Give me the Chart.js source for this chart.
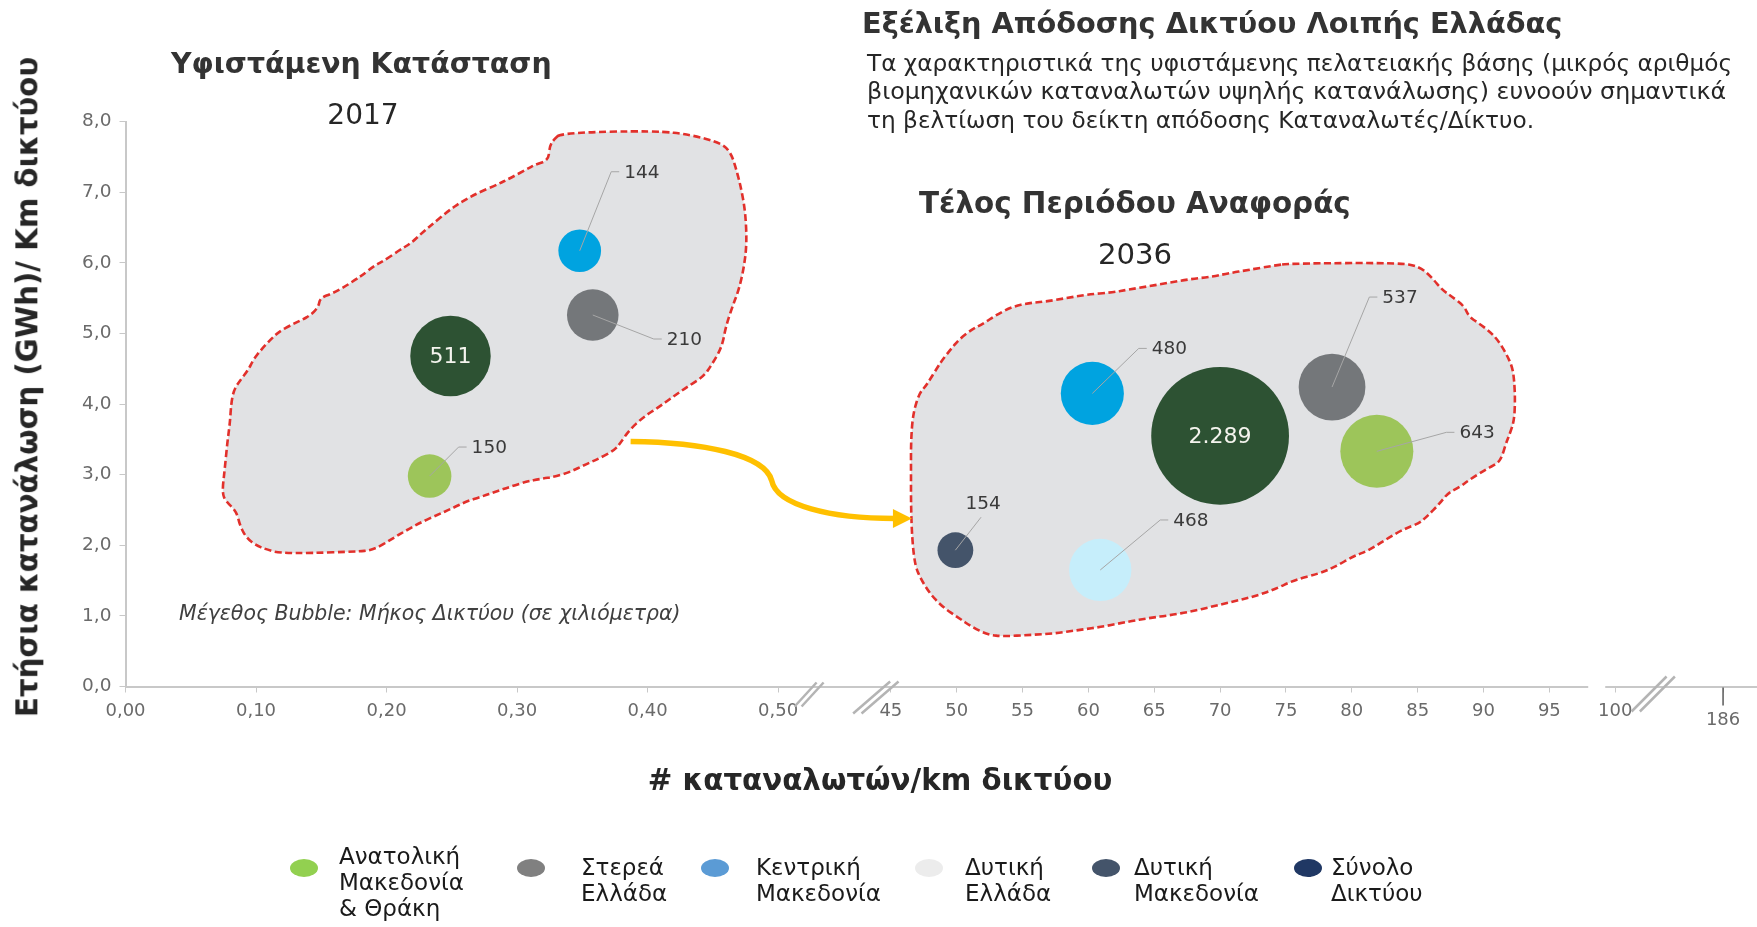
<!DOCTYPE html>
<html lang="el">
<head>
<meta charset="utf-8">
<title>Εξέλιξη Απόδοσης Δικτύου Λοιπής Ελλάδας</title>
<script src="https://cdn.jsdelivr.net/npm/chart.js@4.4.1/dist/chart.umd.min.js"></script>
<style>
body{margin:0;background:#fff;}
#wrap{position:relative;width:1757px;height:927px;overflow:hidden;font-family:"DejaVu Sans",sans-serif;color:#262626;}
#c{position:absolute;left:0;top:0;}
.t{position:absolute;white-space:nowrap;line-height:1;}
.b{font-weight:bold;}
.mid{transform:translate(-50%,-50%);}
.lft{transform:translateY(-50%);}
.mark{position:absolute;width:28px;height:18px;border-radius:50%;}
.leg{position:absolute;font-size:23px;line-height:26px;color:#1a1a1a;white-space:nowrap;}
</style>
</head>
<body>
<div id="wrap">
<canvas id="c" width="1757" height="927"></canvas>

<div class="t b lft" data-w="700" style="left:862px;top:23px;font-size:26px;color:#333">Εξέλιξη Απόδοσης Δικτύου Λοιπής Ελλάδας</div>
<div class="t lft" data-w="865" style="left:867px;top:63px;font-size:20px">Τα χαρακτηριστικά της υφιστάμενης πελατειακής βάσης (μικρός αριθμός</div>
<div class="t lft" data-w="860" style="left:867px;top:92px;font-size:20px">βιομηχανικών καταναλωτών υψηλής κατανάλωσης) ευνοούν σημαντικά</div>
<div class="t lft" data-w="667" style="left:867px;top:120px;font-size:20px">τη βελτίωση του δείκτη απόδοσης Καταναλωτές/Δίκτυο.</div>

<div class="t b lft" data-w="381" style="left:171px;top:64px;font-size:26px;color:#333">Υφιστάμενη Κατάσταση</div>
<div class="t mid" data-w="71" style="left:363px;top:115px;font-size:28px">2017</div>
<div class="t b lft" data-w="432" style="left:919px;top:204px;font-size:26px;color:#333">Τέλος Περιόδου Αναφοράς</div>
<div class="t mid" data-w="74" style="left:1135px;top:255px;font-size:28px">2036</div>

<div class="t lft" data-w="502" style="left:179px;top:613px;font-size:19px;font-style:italic;color:#404040">Μέγεθος Bubble: Μήκος Δικτύου (σε χιλιόμετρα)</div>

<div class="t b mid" data-w="661" style="left:28px;top:387px;font-size:28px;transform:translate(-50%,-50%) rotate(-90deg)">Ετήσια κατανάλωση (GWh)/ Km δικτύου</div>
<div class="t b mid" data-w="465" style="left:880px;top:781px;font-size:28px">#&nbsp;καταναλωτών/km δικτύου</div>

<div id="legend"></div>
</div>

<script>
// regions, in legend order
const regions = ['Ανατολική\nΜακεδονία\n& Θράκη', 'Στερεά\nΕλλάδα', 'Κεντρική\nΜακεδονία', 'Δυτική\nΕλλάδα', 'Δυτική\nΜακεδονία', 'Σύνολο\nΔικτύου'];
const legendColors = ['#92d050', '#808080', '#5b9bd5', '#ececec', '#44546a', '#203864'];
const bubbleColors = ['#9dc55a', '#74777a', '#00a3e0', '#c6eefb', '#44546a', '#2d5233'];

// 2017 - Υφιστάμενη Κατάσταση
const consumers2017 = [0.233, 0.358, 0.348, null, null, 0.249];
const energy2017 = [2.98, 5.26, 6.17, null, null, 4.68];
const km2017 = [150, 210, 144, null, null, 511];

// 2036 - Τέλος Περιόδου Αναφοράς
const consumers2036 = [81.9, 78.5, 60.3, 60.9, 49.9, 70.0];
const energy2036 = [3.33, 4.24, 4.15, 1.65, 1.93, 3.55];
const km2036 = [643, 537, 480, 468, 154, 2289];

// broken x axis
const xTicks = [0, 0.1, 0.2, 0.3, 0.4, 0.5, 45, 50, 55, 60, 65, 70, 75, 80, 85, 90, 95, 100, 186];

// outlines of the two groups (axis units)
const blob2017 = [[0.334,7.84],[0.406,7.87],[0.434,7.81],[0.457,7.69],[0.464,7.55],[0.468,7.32],[0.472,7.03],[0.475,6.70],[0.476,6.28],[0.474,5.95],[0.470,5.62],[0.465,5.38],[0.460,5.10],[0.457,4.81],[0.450,4.58],[0.443,4.39],[0.431,4.25],[0.420,4.11],[0.409,3.96],[0.397,3.82],[0.386,3.63],[0.380,3.47],[0.375,3.35],[0.363,3.23],[0.352,3.14],[0.341,3.04],[0.329,2.97],[0.318,2.94],[0.307,2.90],[0.295,2.83],[0.284,2.76],[0.273,2.69],[0.261,2.62],[0.250,2.52],[0.239,2.43],[0.227,2.33],[0.216,2.22],[0.205,2.10],[0.190,1.93],[0.176,1.91],[0.142,1.89],[0.118,1.89],[0.108,1.94],[0.100,2.00],[0.093,2.10],[0.088,2.26],[0.085,2.48],[0.077,2.62],[0.074,2.74],[0.076,3.07],[0.078,3.45],[0.080,3.73],[0.081,4.01],[0.083,4.20],[0.088,4.34],[0.094,4.48],[0.098,4.63],[0.104,4.77],[0.111,4.91],[0.118,5.03],[0.127,5.12],[0.135,5.19],[0.142,5.26],[0.148,5.38],[0.149,5.50],[0.159,5.57],[0.168,5.66],[0.176,5.76],[0.182,5.83],[0.190,5.95],[0.199,6.04],[0.210,6.18],[0.219,6.28],[0.227,6.42],[0.236,6.56],[0.247,6.73],[0.258,6.87],[0.270,6.99],[0.284,7.10],[0.295,7.20],[0.307,7.32],[0.314,7.39],[0.324,7.45],[0.325,7.65],[0.328,7.74]];
const blob2036 = [[75.33,5.99],[83.52,6.00],[85.10,5.95],[86.04,5.80],[86.83,5.62],[87.61,5.52],[88.56,5.38],[88.87,5.24],[89.66,5.14],[90.45,5.03],[91.07,4.91],[91.70,4.72],[92.18,4.53],[92.33,4.34],[92.40,4.06],[92.33,3.77],[92.02,3.59],[91.70,3.44],[91.39,3.25],[91.07,3.16],[90.13,3.07],[88.87,2.92],[88.24,2.83],[87.30,2.74],[86.67,2.59],[85.73,2.41],[85.10,2.31],[83.84,2.22],[82.58,2.08],[81.32,1.93],[80.06,1.84],[78.80,1.70],[77.54,1.60],[75.65,1.51],[74.08,1.37],[72.50,1.27],[70.93,1.20],[69.36,1.13],[67.78,1.06],[66.21,1.01],[64.64,0.97],[63.06,0.92],[61.17,0.85],[59.28,0.80],[57.39,0.75],[55.51,0.73],[53.62,0.71],[52.36,0.73],[51.10,0.85],[50.16,0.97],[48.90,1.13],[47.95,1.32],[47.32,1.51],[46.85,1.70],[46.62,2.08],[46.53,2.55],[46.53,3.02],[46.53,3.49],[46.69,3.87],[47.16,4.15],[47.63,4.25],[47.95,4.34],[48.58,4.53],[48.90,4.62],[49.53,4.77],[50.16,4.91],[51.10,5.05],[52.04,5.14],[52.99,5.26],[54.25,5.38],[55.51,5.43],[56.76,5.45],[58.34,5.50],[59.91,5.55],[61.80,5.58],[63.06,5.62],[64.64,5.67],[66.21,5.72],[67.78,5.77],[69.36,5.80],[70.62,5.85],[72.19,5.90],[74.08,5.96]];
// arrow from the 2017 group to the 2036 group (axis units)
const arrowFrom = [0.387, 3.47];
const arrowTo = [46.6, 2.38];

// bubble area ~ network length, separate scale per picture
const BUBBLE_K = {2017: 1.78, 2036: 1.44};
// leader line elbows, px from bubble centre (null = label inside)
const leaders = {
  2017: [[29, -29], [61, 24], [31.5, -79], null, null, null],
  2036: [[69.6, -19], [37.3, -90], [46.4, -45], [60, -50], [25.7, -33, 'up'], null]
};
const legendMarkerX = [304, 531, 715, 929, 1106, 1308];
const legendTextX = [339, 581, 756, 965, 1134, 1331];

function fmtKm(v){ return String(v).replace(/\B(?=(\d{3})+(?!\d))/g, '.'); }
function bubble(x, y, km, period){
  return {x: x, y: y, r: BUBBLE_K[period] * Math.sqrt(km), km: km, period: period};
}

// x scale with the breaks 0,50 // 45 ... 100 // 186
const X_SEGS = [[0, 0.5, 0, 0.4], [0.5, 45, 0.4, 0.4691], [45, 100, 0.4691, 0.9131], [100, 186, 0.9131, 0.9792]];
class BrokenScale extends Chart.LinearScale {
  buildTicks(){
    this.start = this.min;
    this.end = this.max;
    return xTicks.map(v => ({value: v}));
  }
  getPixelForValue(v){
    const s = X_SEGS.find(s => v <= s[1]) || X_SEGS[X_SEGS.length - 1];
    return this.getPixelForDecimal(s[2] + (v - s[0]) / (s[1] - s[0]) * (s[3] - s[2]));
  }
  getValueForPixel(px){
    const d = this.getDecimalForPixel(px);
    const s = X_SEGS.find(s => d <= s[3]) || X_SEGS[X_SEGS.length - 1];
    return s[0] + (d - s[2]) / (s[3] - s[2]) * (s[1] - s[0]);
  }
}
BrokenScale.id = 'broken';
BrokenScale.defaults = Chart.LinearScale.defaults;
Chart.register(BrokenScale);

const datasets = regions.map((name, i) => ({
  label: name.replace(/\n/g, ' '),
  backgroundColor: bubbleColors[i],
  borderWidth: 0,
  data: [
    km2017[i] == null ? null : bubble(consumers2017[i], energy2017[i], km2017[i], 2017),
    bubble(consumers2036[i], energy2036[i], km2036[i], 2036)
  ].filter(Boolean)
}));

function smoothPath(ctx, pts){
  const n = pts.length;
  const mid = (a, b) => [(a[0] + b[0]) / 2, (a[1] + b[1]) / 2];
  let m = mid(pts[n - 1], pts[0]);
  ctx.moveTo(m[0], m[1]);
  for (let i = 0; i < n; i++) {
    m = mid(pts[i], pts[(i + 1) % n]);
    ctx.quadraticCurveTo(pts[i][0], pts[i][1], m[0], m[1]);
  }
  ctx.closePath();
}

const decorations = {
  id: 'decorations',
  beforeDatasetsDraw(chart){
    const {ctx, scales: {x, y}} = chart;
    ctx.save();
    [blob2017, blob2036].forEach(outline => {
      const pts = outline.map(p => [x.getPixelForValue(p[0]), y.getPixelForValue(p[1])]);
      ctx.beginPath();
      smoothPath(ctx, pts);
      ctx.fillStyle = '#e1e2e4';
      ctx.fill();
      ctx.setLineDash([7, 3.5]);
      ctx.lineWidth = 2.6;
      ctx.strokeStyle = '#e2302b';
      ctx.stroke();
    });
    ctx.setLineDash([]);

    // arrow
    const p0 = [x.getPixelForValue(arrowFrom[0]), y.getPixelForValue(arrowFrom[1])];
    const tip = [x.getPixelForValue(arrowTo[0]), y.getPixelForValue(arrowTo[1])];
    const p1 = [tip[0] - 18, tip[1]];
    const dx = p1[0] - p0[0], dy = p1[1] - p0[1];
    ctx.strokeStyle = '#ffc000';
    ctx.fillStyle = '#ffc000';
    ctx.lineWidth = 5.5;
    ctx.beginPath();
    ctx.moveTo(p0[0], p0[1]);
    ctx.bezierCurveTo(p0[0] + 0.27 * dx, p0[1] + 0.01 * dy, p0[0] + 0.51 * dx, p0[1] + 0.17 * dy, p0[0] + 0.536 * dx, p0[1] + 0.51 * dy);
    ctx.bezierCurveTo(p0[0] + 0.555 * dx, p0[1] + 0.83 * dy, p0[0] + 0.76 * dx, p1[1], p1[0] + 1, p1[1]);
    ctx.stroke();
    ctx.beginPath();
    ctx.moveTo(tip[0], tip[1]);
    ctx.lineTo(tip[0] - 19, tip[1] - 9.5);
    ctx.lineTo(tip[0] - 19, tip[1] + 9.5);
    ctx.closePath();
    ctx.fill();
    ctx.restore();
  },
  afterDatasetsDraw(chart){
    const ctx = chart.ctx;
    chart.data.datasets.forEach((ds, i) => {
      chart.getDatasetMeta(i).data.forEach((el, j) => {
        const d = ds.data[j];
        const off = leaders[d.period][i];
        const txt = fmtKm(d.km);
        ctx.save();
        ctx.textBaseline = 'middle';
        if (!off) {
          ctx.font = '22px "DejaVu Sans"';
          ctx.fillStyle = '#f4f4ee';
          ctx.textAlign = 'center';
          ctx.fillText(txt, el.x, el.y + 1);
        } else {
          const ex = el.x + off[0], ey = el.y + off[1];
          ctx.strokeStyle = '#a6a6a6';
          ctx.lineWidth = 1;
          ctx.beginPath();
          ctx.moveTo(el.x, el.y);
          ctx.lineTo(ex, ey);
          if (off[2] !== 'up') ctx.lineTo(ex + 8, ey);
          ctx.stroke();
          ctx.font = '18.5px "DejaVu Sans"';
          ctx.fillStyle = '#3a3a3a';
          if (off[2] === 'up') {
            ctx.textAlign = 'center';
            ctx.fillText(txt, ex + 2, ey - 13);
          } else {
            ctx.textAlign = 'left';
            ctx.fillText(txt, ex + 13, ey + 1);
          }
        }
        ctx.restore();
      });
    });
  },
  afterDraw(chart){
    const {ctx, scales: {x}} = chart;
    const ay = chart.chartArea.bottom;
    ctx.save();
    // gap in the axis line before 100
    const p100 = x.getPixelForValue(100);
    ctx.fillStyle = '#fff';
    ctx.fillRect(p100 - 27, ay - 3, 17, 6);
    // break marks
    ctx.strokeStyle = '#b4b4b4';
    ctx.lineWidth = 2.5;
    const marks = [[x.getPixelForValue(0.5) + 31, 22, 7, ay - 4, ay + 20],
                   [x.getPixelForValue(45) - 15, 37, 8.4, ay - 5, ay + 27],
                   [p100 + 38, 35, 8.3, ay - 10, ay + 25]];
    marks.forEach(([cx, w, gap, top, bot]) => {
      [-gap / 2, gap / 2].forEach(o => {
        ctx.beginPath();
        ctx.moveTo(cx + o - w / 2, bot);
        ctx.lineTo(cx + o + w / 2, top);
        ctx.stroke();
      });
    });
    // longer tick for 186
    const p186 = x.getPixelForValue(186);
    ctx.strokeStyle = '#595959';
    ctx.lineWidth = 1.5;
    ctx.beginPath();
    ctx.moveTo(p186, ay + 1);
    ctx.lineTo(p186, ay + 19);
    ctx.stroke();
    ctx.restore();
  }
};

Chart.defaults.font.family = '"DejaVu Sans", sans-serif';

new Chart(document.getElementById('c'), {
  type: 'bubble',
  data: {datasets: datasets},
  plugins: [decorations],
  options: {
    responsive: false,
    animation: false,
    events: [],
    layout: {autoPadding: false, padding: {top: 121.5, right: 0, bottom: 188.5, left: 0}},
    plugins: {legend: {display: false}, tooltip: {enabled: false}},
    scales: {
      x: {
        type: 'broken',
        min: 0,
        max: 186,
        afterFit: s => { s.height = 52; s.paddingLeft = 0; s.paddingRight = 0; },
        grid: {drawOnChartArea: false, tickLength: 6, color: '#c8c8c8'},
        border: {color: '#c8c8c8', width: 2},
        ticks: {
          autoSkip: false,
          maxRotation: 0,
          padding: 8,
          color: '#6a6a6a',
          // the lone 186 label sits lower, under its longer tick
          font: c => ({size: 18, lineHeight: c.tick && c.tick.value === 186 ? 2.25 : 1.2}),
          callback: v => v < 1 ? v.toFixed(2).replace('.', ',') : String(v)
        }
      },
      y: {
        min: 0,
        max: 8,
        afterFit: s => { s.width = 125.5; s.paddingTop = 0; s.paddingBottom = 0; },
        grid: {drawOnChartArea: false, tickLength: 6, color: '#c8c8c8'},
        border: {color: '#c8c8c8', width: 2},
        ticks: {
          stepSize: 1,
          padding: 8,
          color: '#6a6a6a',
          font: {size: 18.5},
          callback: v => v.toFixed(1).replace('.', ',')
        }
      }
    }
  }
});

// legend
const legend = document.getElementById('legend');
regions.forEach((name, i) => {
  const m = document.createElement('div');
  m.className = 'mark';
  m.style.left = (legendMarkerX[i] - 14) + 'px';
  m.style.top = '859px';
  m.style.background = legendColors[i];
  legend.appendChild(m);
  const t = document.createElement('div');
  t.className = 'leg';
  t.style.left = legendTextX[i] + 'px';
  t.style.top = (i === 0 ? 843 : 854) + 'px';
  t.innerHTML = name.split('\n').join('<br>');
  legend.appendChild(t);
});

// stretch text to the widths measured on the original
document.querySelectorAll('[data-w]').forEach(el => {
  const fs = parseFloat(getComputedStyle(el).fontSize);
  el.style.fontSize = (fs * el.dataset.w / el.offsetWidth) + 'px';
});
</script>
</body>
</html>
